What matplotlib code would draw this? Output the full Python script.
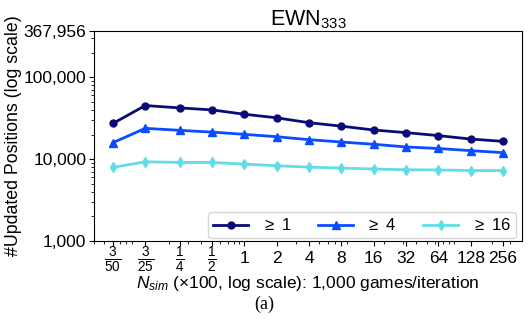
import matplotlib as mpl
mpl.use('Agg')
import matplotlib.pyplot as plt
from matplotlib.ticker import FixedLocator, FixedFormatter, LogLocator, NullFormatter
from matplotlib.transforms import ScaledTranslation

plt.rcParams['font.family'] = ['Liberation Sans', 'DejaVu Sans']
plt.rcParams['mathtext.fontset'] = 'custom'
plt.rcParams['mathtext.rm'] = 'Liberation Sans'
plt.rcParams['mathtext.it'] = 'Liberation Sans:italic'

n_sim = [0.06, 0.12, 0.25, 0.5, 1, 2, 4, 8, 16, 32, 64, 128, 256]
tick_labels = [r'$\frac{3}{50}$', r'$\frac{3}{25}$', r'$\frac{1}{4}$', r'$\frac{1}{2}$',
               '1', '2', '4', '8', '16', '32', '64', '128', '256']

ge1 = [27300, 45200, 42300, 40000, 35400, 32000, 27900, 25300, 22700, 21100, 19400, 17600, 16500]
ge4 = [15900, 23800, 22500, 21400, 20100, 18800, 17300, 16200, 15200, 14100, 13500, 12700, 12000]
ge16 = [7930, 9290, 9120, 9120, 8700, 8300, 8000, 7780, 7570, 7420, 7380, 7260, 7260]

y_ticks = [1000, 10000, 100000, 367956]
y_labels = ['1,000', '10,000', '100,000', '367,956']

fig = plt.figure(figsize=(5.28, 3.31), dpi=100)
ax = fig.add_axes([94/528, 1 - 241/331, 428/528, 210/331])

ax.plot(n_sim, ge1, color='#0b0b78', marker='o', ms=5, lw=2, label=r'$\geq$ 1')
ax.plot(n_sim, ge4, color='#0a4cff', marker='^', ms=5.5, lw=2, label=r'$\geq$ 4')
ax.plot(n_sim, ge16, color='#62dde8', marker='d', ms=5.5, lw=2, label=r'$\geq$ 16')

ax.set_xscale('log')
ax.set_yscale('log')
ax.set_xlim(0.04, 384)
ax.set_ylim(1000, 367956)

ax.xaxis.set_major_locator(FixedLocator(n_sim))
ax.xaxis.set_major_formatter(FixedFormatter(tick_labels))
ax.xaxis.set_minor_locator(LogLocator(base=10, subs=range(2, 10)))
ax.xaxis.set_minor_formatter(NullFormatter())
ax.yaxis.set_major_locator(FixedLocator(y_ticks))
ax.yaxis.set_major_formatter(FixedFormatter(y_labels))
ax.yaxis.set_minor_formatter(NullFormatter())
ax.tick_params(labelsize=12.5)
ax.tick_params(axis='y', pad=2)

# fraction labels: a bit larger, lifted to sit level with the integer ones
lift = ScaledTranslation(0, 4.5/72, fig.dpi_scale_trans)
for lbl in ax.get_xticklabels()[:4]:
    lbl.set_fontsize(14)
    lbl.set_transform(lbl.get_transform() + lift)

ax.set_title(r'EWN$_{333}$', fontsize=15.5, pad=3)
ax.set_ylabel('#Updated Positions (log scale)', fontsize=12.8)
ax.yaxis.set_label_coords(-0.168, 0.5)
ax.set_xlabel(r'$N_{sim}$ ($\times$100, log scale): 1,000 games/iteration', fontsize=12.5)
ax.xaxis.set_label_coords(0.5, -0.155)

ax.legend(loc='lower right', bbox_to_anchor=(0.985, 0.012), borderaxespad=0, ncol=3,
          fontsize=12, handlelength=2.1, columnspacing=1.6, handletextpad=0.8,
          borderpad=0.3)

fig.text(0.5, 1 - 304/331, '(a)', ha='center', va='center', fontsize=13,
         family='Liberation Serif')

plt.savefig('out.png', dpi=100)
